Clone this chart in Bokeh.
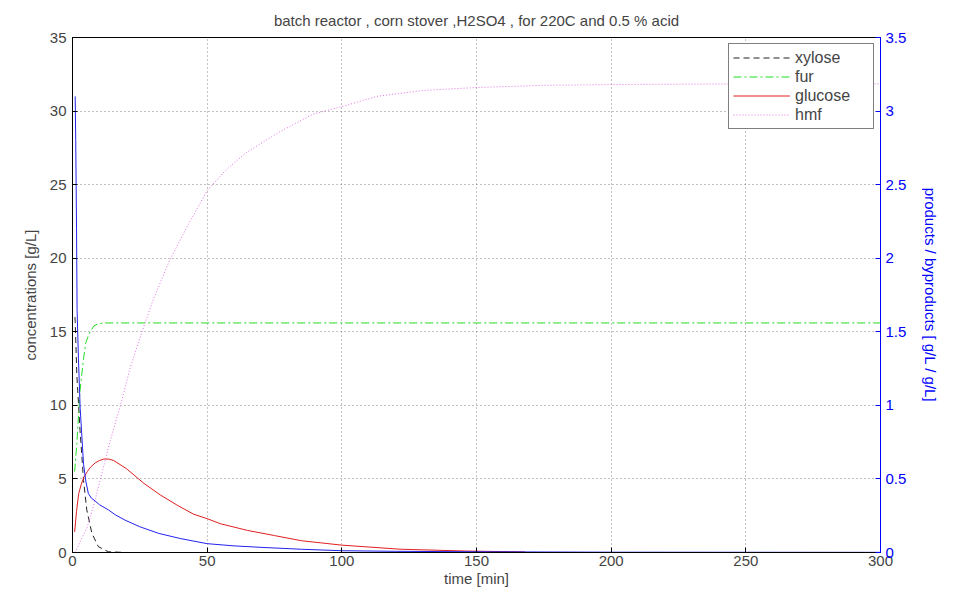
from bokeh.plotting import figure
from bokeh.models import Range1d, LinearAxis, FixedTicker, Legend, LegendItem
from bokeh.embed import file_html
from bokeh.resources import INLINE

# ---- data ----
xylose_t = [0.9, 1.0, 1.6, 2.8, 4.1, 5.3, 7.2, 9.6, 13.3, 20, 300]
xylose = [16.0, 15.7, 12.1, 8.3, 4.9, 2.9, 1.3, 0.4, 0.05, 0.0, 0.0]

fur_t = [0.8, 1.6, 2.8, 4.1, 5.0, 6.5, 8.0, 9.6, 12, 300]
fur = [5.5, 7.4, 11.0, 13.2, 14.3, 15.0, 15.4, 15.55, 15.6, 15.6]

glucose_t = [0.8, 1.5, 2.3, 3.2, 4.2, 5.5, 6.7, 8.5, 10, 11.6, 13.5, 15.3, 20,
             26.5, 32.7, 39, 45, 50, 55, 65, 75, 85, 100, 122, 146, 168]
glucose = [1.4, 2.8, 4.0, 4.6, 5.1, 5.5, 5.8, 6.1, 6.25, 6.35, 6.35, 6.25, 5.7,
           4.7, 3.9, 3.2, 2.6, 2.3, 1.95, 1.5, 1.15, 0.8, 0.5, 0.22, 0.1, 0.04]

hmf_t = [1.0, 3, 5.4, 8, 10.4, 14, 17.8, 21.5, 25.8, 30, 35.8, 42.4, 50, 57,
         64.7, 77, 89.4, 100, 113, 130, 150, 175, 200, 250, 300]
hmf = [0, 0.8, 1.7, 3.3, 5.0, 7.6, 10.0, 12.6, 15.0, 17.2, 19.75, 22.1, 24.6,
       26.0, 27.2, 28.6, 29.8, 30.3, 31.0, 31.4, 31.6, 31.75, 31.8, 31.85, 31.85]

# right-axis series (products / byproducts)
prod_t = [1.0, 1.2, 1.5, 1.7, 2.2, 2.85, 4.1, 5.0, 5.9, 7.0, 8.4, 10, 13.3, 16,
          19.5, 25, 32, 40, 50, 60, 70, 85, 100, 120, 150, 200, 300]
prod = [3.1, 2.8, 2.2, 1.65, 1.32, 0.98, 0.6, 0.48, 0.4, 0.37, 0.35, 0.325,
        0.29, 0.255, 0.22, 0.175, 0.13, 0.095, 0.06, 0.045, 0.035, 0.022,
        0.012, 0.008, 0.005, 0.002, 0.001]

x_ticks = [0, 50, 100, 150, 200, 250, 300]
y_ticks = [0, 5, 10, 15, 20, 25, 30, 35]
y2_ticks = [0, 0.5, 1, 1.5, 2, 2.5, 3, 3.5]

FONT = "Liberation Sans"
FS = "15px"
BLUE = "#0000ff"

p = figure(width=957, height=597, output_backend="svg", toolbar_location=None,
           x_range=Range1d(0, 300), y_range=Range1d(0, 35),
           min_border_left=72, min_border_right=77, min_border_top=37,
           min_border_bottom=45,
           title="batch reactor , corn stover ,H2SO4 , for 220C and 0.5 % acid")
p.title.align = "center"
p.title.vertical_align = "top"
p.title.text_font = FONT
p.title.text_font_style = "normal"
p.title.text_font_size = FS
p.title.standoff = 14

p.extra_y_ranges = {"right": Range1d(0, 3.5)}

p.outline_line_color = "black"
p.outline_line_width = 1
p.background_fill_color = "white"
p.border_fill_color = "white"

for ax in (p.xaxis[0], p.yaxis[0]):
    ax.major_label_text_font = FONT
    ax.major_label_text_font_size = FS
    ax.axis_label_text_font = FONT
    ax.axis_label_text_font_size = FS
    ax.axis_label_text_font_style = "normal"
    ax.major_tick_in = 5
    ax.major_tick_out = 0
    ax.minor_tick_in = 0
    ax.minor_tick_out = 0
    ax.axis_line_color = "black"
    ax.major_tick_line_color = "black"

p.xaxis[0].ticker = FixedTicker(ticks=x_ticks)
p.yaxis[0].ticker = FixedTicker(ticks=y_ticks)
p.xaxis[0].axis_label = "time [min]"
p.yaxis[0].axis_label = "concentrations [g/L]"
p.xaxis[0].major_label_standoff = 3
p.xaxis[0].axis_label_standoff = 1
p.yaxis[0].major_label_standoff = 6
p.yaxis[0].axis_label_standoff = 8

ax2 = LinearAxis(y_range_name="right", ticker=FixedTicker(ticks=y2_ticks),
                 axis_label="products / byproducts [ g/L / g/L]")
ax2.axis_line_color = BLUE
ax2.major_tick_line_color = BLUE
ax2.major_label_text_color = BLUE
ax2.axis_label_text_color = BLUE
ax2.major_label_text_font = FONT
ax2.major_label_text_font_size = FS
ax2.axis_label_text_font = FONT
ax2.axis_label_text_font_size = FS
ax2.axis_label_text_font_style = "normal"
ax2.major_tick_in = 5
ax2.major_tick_out = 0
ax2.minor_tick_in = 0
ax2.minor_tick_out = 0
ax2.major_label_standoff = 5
ax2.axis_label_standoff = 13
p.add_layout(ax2, "right")

p.xgrid.ticker = FixedTicker(ticks=x_ticks)
p.ygrid.ticker = FixedTicker(ticks=y_ticks)
for g in (p.xgrid[0], p.ygrid[0]):
    g.grid_line_color = "#666666"
    g.grid_line_dash = "1 3"
    g.grid_line_width = 1
    g.grid_line_alpha = 0.8

r_x = p.line(xylose_t, xylose, line_color="#222222", line_dash="6 4", line_width=1)
r_f = p.line(fur_t, fur, line_color="#22dd22", line_dash="8 3 2 3", line_width=1)
r_g = p.line(glucose_t, glucose, line_color="#e02020", line_width=1)
r_h = p.line(hmf_t, hmf, line_color="#e070e0", line_dash="1 2", line_width=1)
r_p = p.line(prod_t, prod, line_color="#2222ee", line_width=1, y_range_name="right")

legend = Legend(items=[LegendItem(label="xylose", renderers=[r_x]),
                       LegendItem(label="fur", renderers=[r_f]),
                       LegendItem(label="glucose", renderers=[r_g]),
                       LegendItem(label="hmf", renderers=[r_h])],
                location="top_right")
legend.label_text_font = FONT
legend.label_text_font_size = "16px"
legend.glyph_width = 57
legend.glyph_height = 19
legend.label_height = 19
legend.label_width = 74
legend.label_standoff = 5
legend.spacing = 0
legend.padding = 4
legend.margin = 6
legend.border_line_color = "black"
legend.border_line_width = 1
legend.background_fill_alpha = 1
p.add_layout(legend)

open("out.html", "w").write(file_html(p, INLINE))
